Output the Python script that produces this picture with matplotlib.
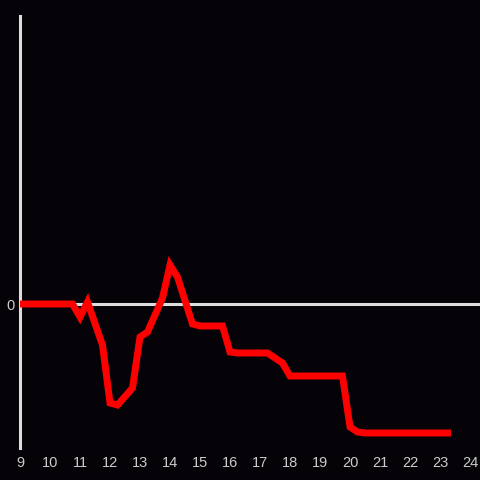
import matplotlib
matplotlib.use("Agg")
import matplotlib.pyplot as plt

hours = [9.0, 10.75, 11.0, 11.25, 11.75, 12.0, 12.25, 12.75, 13.0, 13.25, 13.75,
         14.0, 14.25, 14.75, 15.0, 15.75, 16.0, 16.25, 17.25, 17.5, 17.75, 18.0,
         19.75, 20.0, 20.25, 20.5, 23.25]
values = [0, 0, -13, 2, -41, -99, -101, -84, -33, -28, 6,
          39, 27, -20, -22, -22, -48, -49, -49, -54, -59, -72,
          -72, -123, -128, -129, -129]
xticks = list(range(9, 25))
yticks = [0]

bg = "#050307"
fig = plt.figure(figsize=(4.8, 4.8), dpi=100, facecolor=bg)
ax = fig.add_axes([20/480, 32/480, 460/480, 432/480], facecolor=bg)

ax.axhline(0, color="#dddddd", lw=2.2, zorder=1)
ax.plot(hours, values, color="#ff0000", lw=5, solid_joinstyle="miter",
        solid_capstyle="projecting", zorder=3)

ax.set_xlim(9, 24 + 1/3)
ax.set_ylim(-144, 288)
ax.set_xticks(xticks)
ax.set_xticklabels([str(t) for t in xticks])
ax.set_yticks(yticks)
ax.set_yticklabels(["0"])

for s in ["top", "right", "bottom"]:
    ax.spines[s].set_visible(False)
ax.spines["left"].set_color("#dddddd")
ax.spines["left"].set_linewidth(2.2)

ax.tick_params(axis="both", length=0, colors="#cccccc", labelsize=10.5, pad=4)
ax.tick_params(axis="x", pad=6)
for lab in ax.get_xticklabels() + ax.get_yticklabels():
    lab.set_family("Liberation Sans")

fig.savefig("out.png", dpi=100, facecolor=bg)
